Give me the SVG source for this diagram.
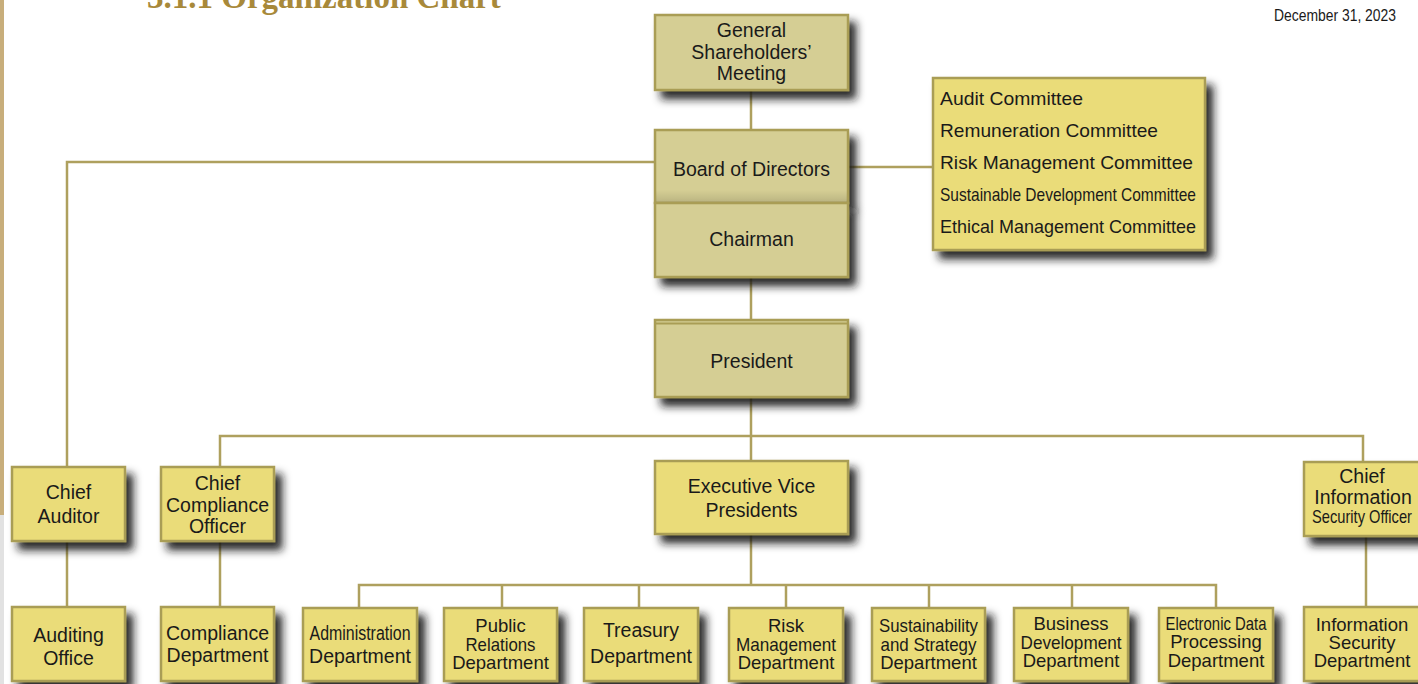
<svg xmlns="http://www.w3.org/2000/svg" width="1418" height="684" viewBox="0 0 1418 684">
  <style>
    .khaki { fill: #D5CE94; stroke: #A99D55; stroke-width: 2.5; }
    .yellow { fill: #EADC79; stroke: #A99D55; stroke-width: 2.5; }
    .lbl { font-family: "Liberation Sans", Arial, Helvetica, sans-serif; font-size: 19.5px; fill: #1a1a1a; text-anchor: middle; }
    .tight { font-size: 18.5px; }
    .cm { font-family: "Liberation Sans", Arial, Helvetica, sans-serif; font-size: 19px; fill: #1a1a1a; }
    .wire { fill: none; stroke: #AEA05E; stroke-width: 2.5; }
  </style>
  <defs>
    <filter id="shadow" x="-15%" y="-15%" width="140%" height="150%">
      <feDropShadow dx="7" dy="8" stdDeviation="4.5" flood-color="#161616" flood-opacity="0.92"/>
    </filter>
    <linearGradient id="boardShade" x1="0" y1="0" x2="0" y2="1">
      <stop offset="0" stop-color="#000" stop-opacity="0"/>
      <stop offset="1" stop-color="#000" stop-opacity="0.12"/>
    </linearGradient>
  </defs>

  <rect width="1418" height="684" fill="#ffffff"/>
  <!-- page margin band -->
  <rect x="0" y="0" width="4" height="515" fill="#C8AE7B"/>
  <rect x="0" y="515" width="4" height="169" fill="#E2E2E2"/>

  <!-- page header -->
  <text x="147" y="8" font-family="'Liberation Serif', 'Times New Roman', serif" font-weight="bold" font-size="33" fill="#A8893A">3.1.1 Organization Chart</text>
  <text x="1274" y="21" font-family="'Liberation Sans', Arial, sans-serif" font-size="16" fill="#1a1a1a" textLength="122" lengthAdjust="spacingAndGlyphs">December 31, 2023</text>

  <!-- connectors -->
  <g id="connectors" class="wire">
    <path d="M751,90 V130"/>
    <path d="M751,277 V320"/>
    <path d="M751,397 V461"/>
    <path d="M848,167 H933"/>
    <path d="M655,162 H67 V467"/>
    <path d="M220,467 V436 H1363 V462"/>
    <path d="M67,541 V607"/>
    <path d="M220,541 V607"/>
    <path d="M1366,536 V607"/>
    <path d="M751,534 V585"/>
    <path d="M359,608 V585 H1216 V608"/>
    <path d="M502,585 V608"/>
    <path d="M639,585 V608"/>
    <path d="M786,585 V608"/>
    <path d="M929,585 V608"/>
    <path d="M1072,585 V608"/>
  </g>

  <g id="shareholders">
    <rect class="khaki" x="655" y="15" width="193" height="75" filter="url(#shadow)"/>
    <text class="lbl" x="751.5" y="37">General</text>
    <text class="lbl" x="751.5" y="58.5">Shareholders’</text>
    <text class="lbl" x="751.5" y="80">Meeting</text>
  </g>

  <g id="board">
    <rect class="khaki" x="655" y="130" width="193" height="73" filter="url(#shadow)"/>
    <rect x="656" y="190" width="191" height="12" fill="url(#boardShade)"/>
    <text class="lbl" x="751.5" y="176">Board of Directors</text>
  </g>

  <g id="chairman">
    <rect class="khaki" x="655" y="203" width="193" height="74" filter="url(#shadow)"/>
    <text class="lbl" x="751.5" y="246">Chairman</text>
  </g>

  <g id="committees">
    <rect class="yellow" x="933" y="78" width="272" height="172" filter="url(#shadow)"/>
    <text class="cm" x="940" y="105" textLength="143" lengthAdjust="spacingAndGlyphs">Audit Committee</text>
    <text class="cm" x="940" y="137" textLength="218" lengthAdjust="spacingAndGlyphs">Remuneration Committee</text>
    <text class="cm" x="940" y="169" textLength="253" lengthAdjust="spacingAndGlyphs">Risk Management Committee</text>
    <text class="cm" x="940" y="201" textLength="256" lengthAdjust="spacingAndGlyphs">Sustainable Development Committee</text>
    <text class="cm" x="940" y="233" textLength="256" lengthAdjust="spacingAndGlyphs">Ethical Management Committee</text>
  </g>

  <g id="president">
    <rect class="khaki" x="655" y="320" width="193" height="77" filter="url(#shadow)"/>
    <line x1="656" y1="323.5" x2="847" y2="323.5" stroke="#A99D55" stroke-width="2"/>
    <text class="lbl" x="751.5" y="368">President</text>
  </g>

  <g id="evp">
    <rect class="yellow" x="655" y="461" width="193" height="73" filter="url(#shadow)"/>
    <text class="lbl" x="751.5" y="493">Executive Vice</text>
    <text class="lbl" x="751.5" y="517">Presidents</text>
  </g>

  <g id="chief-auditor">
    <rect class="yellow" x="12" y="467" width="113" height="74" filter="url(#shadow)"/>
    <text class="lbl" x="68.5" y="499">Chief</text>
    <text class="lbl" x="68.5" y="523">Auditor</text>
  </g>

  <g id="chief-compliance-officer">
    <rect class="yellow" x="161" y="467" width="113" height="74" filter="url(#shadow)"/>
    <text class="lbl" x="217.5" y="490">Chief</text>
    <text class="lbl" x="217.5" y="511.5">Compliance</text>
    <text class="lbl" x="217.5" y="533">Officer</text>
  </g>

  <g id="ciso">
    <rect class="yellow" x="1304" y="462" width="118" height="74" filter="url(#shadow)"/>
    <text class="lbl" x="1362" y="483">Chief</text>
    <text class="lbl" x="1363" y="504">Information</text>
    <text class="lbl tight" x="1362" y="523" textLength="100" lengthAdjust="spacingAndGlyphs">Security Officer</text>
  </g>

  <g id="auditing-office">
    <rect class="yellow" x="12" y="607" width="113" height="74" filter="url(#shadow)"/>
    <text class="lbl" x="68.5" y="642">Auditing</text>
    <text class="lbl" x="68.5" y="665">Office</text>
  </g>

  <g id="compliance-dept">
    <rect class="yellow" x="161" y="607" width="113" height="74" filter="url(#shadow)"/>
    <text class="lbl" x="217.5" y="640">Compliance</text>
    <text class="lbl" x="217.5" y="662">Department</text>
  </g>

  <g id="administration-dept">
    <rect class="yellow" x="303" y="608" width="114" height="73" filter="url(#shadow)"/>
    <text class="lbl" x="360" y="640" textLength="101" lengthAdjust="spacingAndGlyphs">Administration</text>
    <text class="lbl" x="360" y="663">Department</text>
  </g>

  <g id="public-relations-dept">
    <rect class="yellow" x="444" y="608" width="113" height="73" filter="url(#shadow)"/>
    <text class="lbl tight" x="500.5" y="632">Public</text>
    <text class="lbl tight" x="500.5" y="650.5" textLength="70" lengthAdjust="spacingAndGlyphs">Relations</text>
    <text class="lbl tight" x="500.5" y="669">Department</text>
  </g>

  <g id="treasury-dept">
    <rect class="yellow" x="584" y="608" width="114" height="73" filter="url(#shadow)"/>
    <text class="lbl" x="641" y="637">Treasury</text>
    <text class="lbl" x="641" y="663">Department</text>
  </g>

  <g id="risk-management-dept">
    <rect class="yellow" x="729" y="608" width="114" height="73" filter="url(#shadow)"/>
    <text class="lbl tight" x="786" y="632">Risk</text>
    <text class="lbl tight" x="786" y="650.5" textLength="100" lengthAdjust="spacingAndGlyphs">Management</text>
    <text class="lbl tight" x="786" y="668.5">Department</text>
  </g>

  <g id="sustainability-strategy-dept">
    <rect class="yellow" x="872" y="608" width="113" height="73" filter="url(#shadow)"/>
    <text class="lbl tight" x="928.5" y="632" textLength="99" lengthAdjust="spacingAndGlyphs">Sustainability</text>
    <text class="lbl tight" x="928.5" y="650.5" textLength="96" lengthAdjust="spacingAndGlyphs">and Strategy</text>
    <text class="lbl tight" x="928.5" y="668.5">Department</text>
  </g>

  <g id="business-development-dept">
    <rect class="yellow" x="1014" y="608" width="114" height="73" filter="url(#shadow)"/>
    <text class="lbl tight" x="1071" y="630">Business</text>
    <text class="lbl tight" x="1071" y="648.5" textLength="101" lengthAdjust="spacingAndGlyphs">Development</text>
    <text class="lbl tight" x="1071" y="667">Department</text>
  </g>

  <g id="edp-dept">
    <rect class="yellow" x="1159" y="608" width="114" height="73" filter="url(#shadow)"/>
    <text class="lbl tight" x="1216" y="630" textLength="101" lengthAdjust="spacingAndGlyphs">Electronic Data</text>
    <text class="lbl tight" x="1216" y="647.5">Processing</text>
    <text class="lbl tight" x="1216" y="667">Department</text>
  </g>

  <g id="information-security-dept">
    <rect class="yellow" x="1304" y="607" width="118" height="74" filter="url(#shadow)"/>
    <text class="lbl tight" x="1362" y="631">Information</text>
    <text class="lbl tight" x="1362" y="649">Security</text>
    <text class="lbl tight" x="1362" y="667">Department</text>
  </g>
</svg>
